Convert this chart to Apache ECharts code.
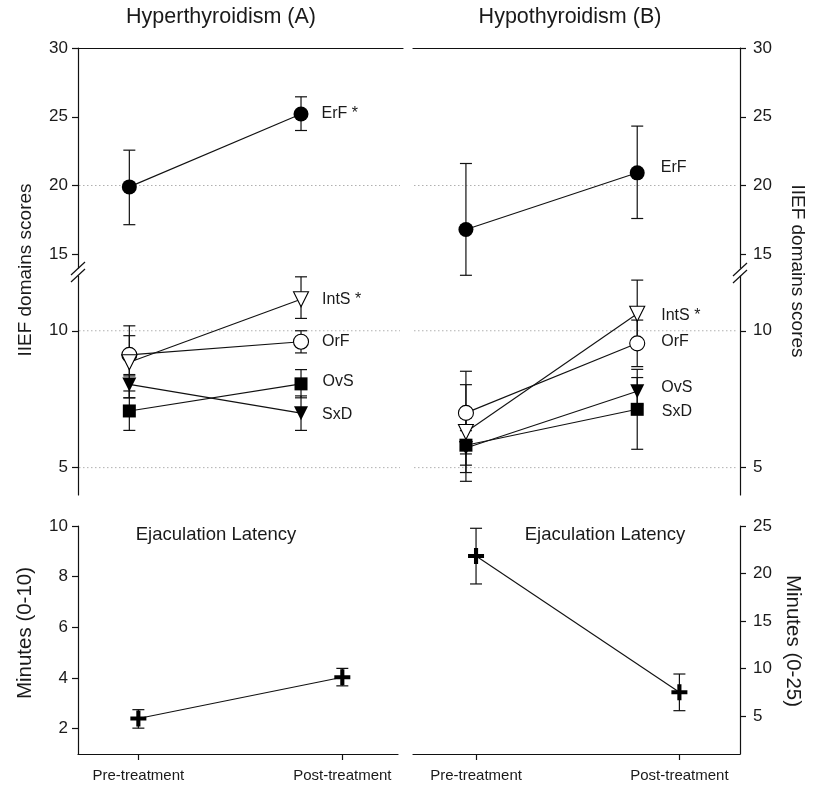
<!DOCTYPE html>
<html><head><meta charset="utf-8">
<script src="https://cdn.jsdelivr.net/npm/echarts@6/dist/echarts.min.js"></script>
<style>html,body{margin:0;padding:0;background:#fff}#c{width:818px;height:785px}</style>
</head><body><div id="c"></div>
<script>
// ---------- DATA ----------
const treatments = ['Pre-treatment', 'Post-treatment'];
const positions = [0, 1];

// Hyperthyroidism (A) — IIEF domain scores (mean, lower bar end, upper bar end)
const hyperErF = [19.9, 25.2],  hyperErFLo = [17.15, 24.0], hyperErFHi = [22.57, 26.45];
const hyperIntS = [8.85, 11.15], hyperIntSLo = [7.55, 10.45], hyperIntSHi = [10.18, 11.97];
const hyperOrF = [9.12, 9.6],   hyperOrFLo = [8.35, 9.19],  hyperOrFHi = [9.82, 10.0];
const hyperSquare = [7.07, 8.06], hyperSquareLo = [6.36, 7.55], hyperSquareHi = [7.8, 8.58];
const hyperTri = [8.04, 6.99],  hyperTriLo = [7.55, 6.36],  hyperTriHi = [8.4, 7.62];

// Hypothyroidism (B) — IIEF domain scores
const hypoErF = [16.8, 20.92],  hypoErFLo = [13.47, 17.6],  hypoErFHi = [21.6, 24.32];
const hypoIntS = [6.3, 10.62],  hypoIntSLo = [4.5, 9.45],   hypoIntSHi = [8.03, 11.85];
const hypoOrF = [7.0, 9.54],    hypoOrFLo = [5.5, 8.69],    hypoOrFHi = [8.52, 10.39];
const hypoSquare = [5.82, 7.13], hypoSquareLo = [4.82, 5.67], hypoSquareHi = [6.82, 8.59];
const hypoTri = [5.72, 7.79],   hypoTriLo = [5.09, 7.29],   hypoTriHi = [6.35, 8.29];

// Ejaculation latency (minutes)
const hyperLat = [2.4, 4.03],  hyperLatLo = [2.02, 3.69],  hyperLatHi = [2.75, 4.38];
const hypoLat = [21.84, 7.5],  hypoLatLo = [18.9, 5.56],   hypoLatHi = [24.76, 9.42];

// Labels next to post-treatment points
const hyperLabels = ['ErF *', 'IntS *', 'OrF', 'OvS', 'SxD'];
const hypoLabels = ['ErF', 'IntS *', 'OrF', 'SxD', 'OvS'];

// Axis ticks and reference lines
const upperTicks = [15, 20, 25, 30];
const lowerTicks = [5, 10];
const lat10Ticks = [2, 4, 6, 8, 10];
const lat25Ticks = [5, 10, 15, 20, 25];
const upperRefLines = [20];
const lowerRefLines = [10, 5];

// ---------- CHART ----------
const FONT = "'Liberation Sans', Arial, Helvetica, sans-serif";
const TXT = '#1a1a1a';
const chart = echarts.init(document.getElementById('c'), null, {renderer: 'canvas'});

const grids = [
  {left: 78, width: 325, top: 48, height: 220},
  {left: 78, width: 325, top: 276, height: 219},
  {left: 413, width: 327, top: 48, height: 220},
  {left: 413, width: 327, top: 276, height: 219},
  {left: 78, width: 320, top: 526, height: 228},
  {left: 413, width: 327, top: 526, height: 228}
];

function xAx(g, min, max, mode) {
  const base = {type: 'value', gridIndex: g, min: min, max: max, splitLine: {show: false}};
  if (mode === 'top') {
    return Object.assign(base, {position: 'top', axisLine: {show: true, lineStyle: {color: '#111', width: 1.2}},
      axisTick: {show: false}, axisLabel: {show: false}});
  }
  if (mode === 'hidden') return Object.assign(base, {show: false});
  return Object.assign(base, {position: 'bottom',
    axisLine: {show: true, onZero: false, lineStyle: {color: '#111', width: 1.2}},
    axisTick: {show: true, length: 6, customValues: positions, lineStyle: {color: '#111', width: 1.2}},
    axisLabel: {show: true, customValues: positions, margin: 14, color: TXT, fontSize: 15, fontFamily: FONT,
      formatter: v => treatments[Math.round(v)]}});
}
function yAx(g, min, max, ticks, pos) {
  return {type: 'value', gridIndex: g, min: min, max: max, position: pos,
    splitLine: {show: false},
    axisLine: {show: true, onZero: false, lineStyle: {color: '#111', width: 1.2}},
    axisTick: {show: true, length: 6, inside: false, customValues: ticks, lineStyle: {color: '#111', width: 1.2}},
    axisLabel: {show: true, customValues: ticks, margin: pos === 'left' ? 10 : 13, color: TXT, fontSize: 17, fontFamily: FONT}};
}

const xAxes = [
  xAx(0, -0.299, 1.594, 'top'),
  xAx(1, -0.299, 1.594, 'hidden'),
  xAx(2, -0.309, 1.6, 'top'),
  xAx(3, -0.309, 1.6, 'hidden'),
  xAx(4, -0.296, 1.273, 'bottom'),
  xAx(5, -0.31, 1.298, 'bottom')
];
const yAxes = [
  yAx(0, 14, 30, upperTicks, 'left'),
  yAx(1, 4, 12, lowerTicks, 'left'),
  yAx(2, 14, 30, upperTicks, 'right'),
  yAx(3, 4, 12, lowerTicks, 'right'),
  yAx(4, 1, 10, lat10Ticks, 'left'),
  yAx(5, 1, 25, lat25Ticks, 'right')
];

// dotted horizontal reference lines, drawn beneath everything
function refLines(ai, vals) {
  return {type: 'custom', xAxisIndex: ai, yAxisIndex: ai, z: 0, silent: true, clip: false,
    data: vals.map(v => [0, v]),
    encode: {x: 0, y: 1},
    renderItem(params, api) {
      const cs = params.coordSys;
      const y = api.coord([0, api.value(1)])[1];
      return {type: 'line', z2: 0,
        shape: {x1: cs.x + 1, y1: y, x2: cs.x + cs.width - 3, y2: y},
        style: {stroke: '#b0b0b0', lineWidth: 1, lineDash: [1.5, 2.5]}};
    }};
}

function errSeries(ai, lo, hi) {
  return {type: 'custom', xAxisIndex: ai, yAxisIndex: ai, clip: false, z: 2, silent: true,
    data: positions.map((p, i) => [p, lo[i], hi[i]]),
    encode: {x: 0, y: [1, 2]},
    renderItem(params, api) {
      const x = api.value(0);
      const a = api.coord([x, api.value(1)]);
      const b = api.coord([x, api.value(2)]);
      const w = 6;
      const st = {stroke: '#111', lineWidth: 1.2};
      return {type: 'group', children: [
        {type: 'line', shape: {x1: a[0], y1: a[1], x2: b[0], y2: b[1]}, style: st},
        {type: 'line', shape: {x1: a[0] - w, y1: a[1], x2: a[0] + w, y2: a[1]}, style: st},
        {type: 'line', shape: {x1: b[0] - w, y1: b[1], x2: b[0] + w, y2: b[1]}, style: st}
      ]};
    }};
}

const PLUS = 'path://M5.2,0H8.8V5.2H14V8.8H8.8V14H5.2V8.8H0V5.2H5.2Z';

function lineSeries(ai, vals, opt) {
  const data = positions.map((p, i) => {
    if (i === 1 && opt.label) {
      return {value: [p, vals[i]], label: {show: true, position: 'right', distance: opt.dist,
        offset: [0, opt.dy || 0], formatter: opt.label, color: TXT, fontSize: 16, fontFamily: FONT}};
    }
    return [p, vals[i]];
  });
  return {type: 'line', xAxisIndex: ai, yAxisIndex: ai, data: data, z: 3, silent: true,
    symbol: opt.symbol, symbolSize: opt.size, symbolRotate: opt.rotate || 0, symbolKeepAspect: true,
    showAllSymbol: true, clip: false,
    lineStyle: {color: '#111', width: 1.1},
    itemStyle: {color: opt.filled ? '#000' : '#fff', borderColor: '#000', borderWidth: opt.filled ? 0 : 1.1, opacity: 1},
    label: {show: false},
    animation: false};
}

const series = [
  refLines(0, upperRefLines), refLines(1, lowerRefLines),
  refLines(2, upperRefLines), refLines(3, lowerRefLines),
  // Hyper upper
  errSeries(0, hyperErFLo, hyperErFHi),
  lineSeries(0, hyperErF, {symbol: 'circle', size: 15, filled: true, label: hyperLabels[0], dist: 13, dy: 0}),
  // Hyper lower
  errSeries(1, hyperSquareLo, hyperSquareHi),
  errSeries(1, hyperTriLo, hyperTriHi),
  errSeries(1, hyperOrFLo, hyperOrFHi),
  errSeries(1, hyperIntSLo, hyperIntSHi),
  lineSeries(1, hyperSquare, {symbol: 'rect', size: 13, filled: true, label: hyperLabels[3], dist: 15, dy: -2}),
  lineSeries(1, hyperTri, {symbol: 'triangle', size: 14, rotate: 180, filled: true, label: hyperLabels[4], dist: 14, dy: 1}),
  lineSeries(1, hyperOrF, {symbol: 'circle', size: 15, filled: false, label: hyperLabels[2], dist: 13, dy: 0}),
  lineSeries(1, hyperIntS, {symbol: 'triangle', size: 15, rotate: 180, filled: false, label: hyperLabels[1], dist: 13, dy: 0}),
  // Hypo upper
  errSeries(2, hypoErFLo, hypoErFHi),
  lineSeries(2, hypoErF, {symbol: 'circle', size: 15, filled: true, label: hypoLabels[0], dist: 16, dy: -5}),
  // Hypo lower
  errSeries(3, hypoSquareLo, hypoSquareHi),
  errSeries(3, hypoTriLo, hypoTriHi),
  errSeries(3, hypoOrFLo, hypoOrFHi),
  errSeries(3, hypoIntSLo, hypoIntSHi),
  lineSeries(3, hypoSquare, {symbol: 'rect', size: 13, filled: true, label: hypoLabels[3], dist: 18, dy: 2}),
  lineSeries(3, hypoTri, {symbol: 'triangle', size: 14, rotate: 180, filled: true, label: hypoLabels[4], dist: 17, dy: -4}),
  lineSeries(3, hypoOrF, {symbol: 'circle', size: 15, filled: false, label: hypoLabels[2], dist: 16, dy: -2}),
  lineSeries(3, hypoIntS, {symbol: 'triangle', size: 15, rotate: 180, filled: false, label: hypoLabels[1], dist: 16, dy: 2}),
  // Latency
  errSeries(4, hyperLatLo, hyperLatHi),
  lineSeries(4, hyperLat, {symbol: PLUS, size: 16, filled: true}),
  errSeries(5, hypoLatLo, hypoLatHi),
  lineSeries(5, hypoLat, {symbol: PLUS, size: 16, filled: true})
];

function txt(text, x, y, size, rot) {
  return {type: 'text', x: x, y: y, rotation: rot || 0, silent: true, z: 10,
    style: {text: text, fill: TXT, font: size + 'px ' + FONT, textAlign: 'center', textVerticalAlign: 'middle'}};
}
function seg(x1, y1, x2, y2) {
  return {type: 'line', silent: true, z: 10, shape: {x1, y1, x2, y2}, style: {stroke: '#111', lineWidth: 1.2}};
}

const graphics = [
  txt('Hyperthyroidism (A)', 221, 17, 21.5),
  txt('Hypothyroidism (B)', 570, 17, 21.5),
  txt('IIEF domains scores', 26, 270, 19, Math.PI / 2),
  txt('IIEF domains scores', 797, 271, 19, -Math.PI / 2),
  txt('Minutes (0-10)', 25, 633, 20.5, Math.PI / 2),
  txt('Minutes (0-25)', 793, 641, 20.5, -Math.PI / 2),
  txt('Ejaculation Latency', 216, 535, 18.5),
  txt('Ejaculation Latency', 605, 535, 18.5),
  // axis break marks
  seg(71, 275, 85, 262), seg(71, 282, 85, 269),
  seg(733, 276, 747, 263), seg(733, 283, 747, 270)
];

chart.setOption({
  animation: false,
  backgroundColor: '#fff',
  grid: grids,
  xAxis: xAxes,
  yAxis: yAxes,
  series: series,
  graphic: graphics
});
</script></body></html>
